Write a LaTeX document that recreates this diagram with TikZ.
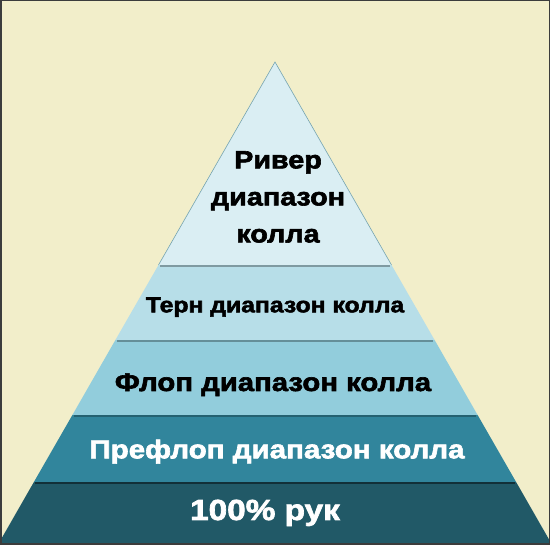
\documentclass[tikz,border=0pt]{standalone}
\usepackage{fontspec}
\newfontfamily\pyrfont[FakeStretch=1.15,FakeBold=2.4]{Liberation Sans Bold}
\definecolor{bgcream}{HTML}{F2EECA}
\definecolor{lay1}{HTML}{DAEEF3}
\definecolor{lay2}{HTML}{B7DEE8}
\definecolor{lay3}{HTML}{92CDDC}
\definecolor{lay4}{HTML}{31859C}
\definecolor{lay5}{HTML}{215967}
\definecolor{framegray}{HTML}{3C3C3C}
\tikzset{
  shadowline/.style={draw=black, draw opacity=0.3, line width=1.6pt},
  label/.style={inner sep=0pt, anchor=base, font=\pyrfont},
}
\begin{document}
\begin{tikzpicture}[x=1pt,y=-1pt]
\useasboundingbox (0,0) rectangle (550,545);
\fill[bgcream] (0,0) rectangle (550,545);
\begin{scope}
\clip (0,0) rectangle (550,545);
\fill[lay5] (33.9,482) -- (516.1,482) -- (552.2,545) -- (-2.2,545) -- cycle;
\fill[lay4] (72.4,415) -- (477.6,415) -- (516.1,482) -- (33.9,482) -- cycle;
\fill[lay3] (115.4,340) -- (434.6,340) -- (477.6,415) -- (72.4,415) -- cycle;
\fill[lay2] (158.5,265) -- (391.5,265) -- (434.6,340) -- (115.4,340) -- cycle;
\fill[lay1] (275,62) -- (391.5,265) -- (158.5,265) -- cycle;
\draw[draw=lay3!80!black, line width=0.6pt] (158.5,265) -- (275,62) -- (391.5,265);
\draw[shadowline] (160,266.2) -- (390,266.2);
\draw[shadowline] (117,341.2) -- (433,341.2);
\draw[shadowline, draw=lay5, draw opacity=0.8] (74,416.2) -- (476,416.2);
\draw[shadowline, draw opacity=0.45] (35,483.2) -- (515,483.2);
\end{scope}
\draw[framegray, line width=1.5pt] (0.75,0.75) rectangle (549.25,544.25);
\node[label, anchor=north, align=center, font=\pyrfont\fontsize{25}{37}\selectfont] (river) at (278,151) {Ривер\\диапазон\\колла};
\node[label, font=\pyrfont\fontsize{21.5}{25}\selectfont] (turn) at (275,312.3) {Терн диапазон колла};
\node[label, font=\pyrfont\fontsize{25.5}{29}\selectfont] (flop) at (273,391) {Флоп диапазон колла};
\node[label, text=white, font=\pyrfont\fontsize{25.7}{30}\selectfont] (preflop) at (277,458.3) {Префлоп диапазон колла};
\node[label, text=white, font=\pyrfont\fontsize{29}{33}\selectfont] (hands) at (265,520) {100\% рук};
\end{tikzpicture}
\end{document}
